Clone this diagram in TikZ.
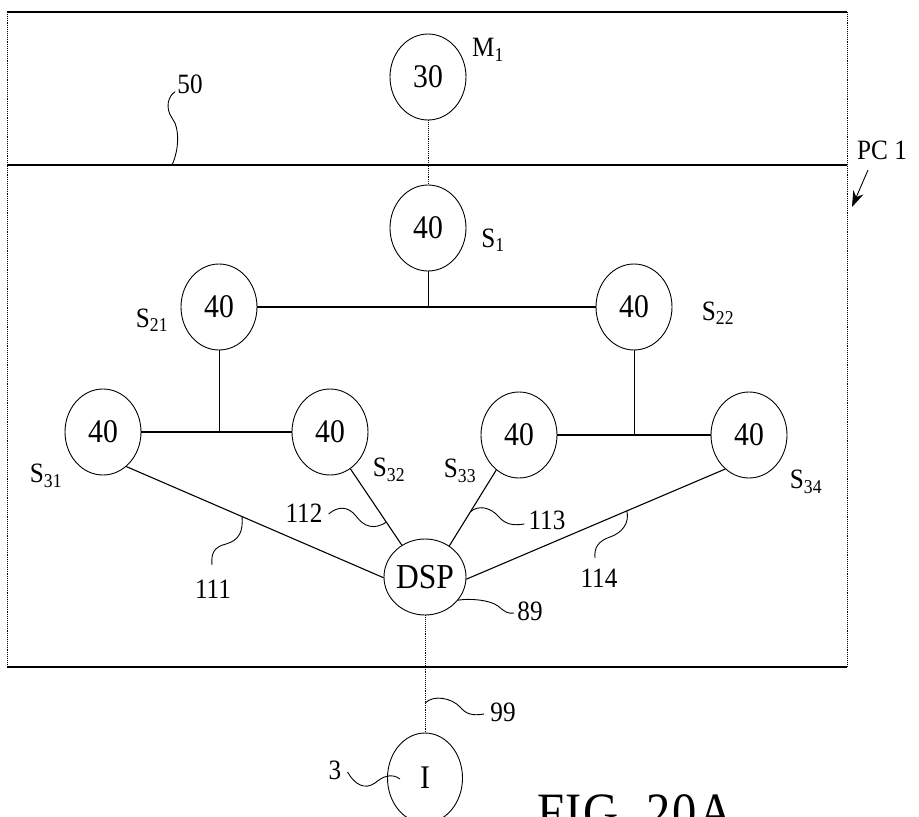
\documentclass[tikz,border=0pt]{standalone}
\usepackage{fontspec}
\setmainfont[FakeStretch=0.9]{Liberation Serif}
\usetikzlibrary{shapes.geometric,arrows.meta,calc}
\newcommand{\nfont}{\fontsize{33}{36}\selectfont}
\newcommand{\lfont}{\fontsize{28}{30}\selectfont}
\newcommand{\rfont}{\fontsize{28}{30}\selectfont}
\begin{document}
\begin{tikzpicture}[x=1pt,y=-1pt,
  unitnode/.style={ellipse, draw, line width=0.9pt, minimum width=76pt, minimum height=86pt, inner sep=0pt, font=\nfont},
  conn/.style={line width=1.1pt},
  vconn/.style={line width=0.9pt},
  dotconn/.style={line width=0.9pt, densely dotted},
  lead/.style={line width=0.9pt},
  lab/.style={font=\lfont, inner sep=0pt},
  ref/.style={font=\rfont, inner sep=0pt},
  frame/.style={line width=1.6pt},
  side/.style={line width=0.9pt, densely dotted}]
\clip (0,0) rectangle (919,817);
\fill[white] (0,0) rectangle (919,817);

% frame
\coordinate (tl) at (7,12);
\coordinate (tr) at (847,12);
\coordinate (ml) at (7,165);
\coordinate (mr) at (847,165);
\coordinate (bl) at (7,667);
\coordinate (br) at (847,667);
\draw[frame] (tl) -- (tr);
\draw[frame] (ml) -- (mr);
\draw[frame] (bl) -- (br);
\draw[side] (tl) -- (bl);
\draw[side] (tr) -- (br);

% nodes
\node[unitnode] (m1) at (428,77) {30};
\node[unitnode] (s1) at (428,228) {40};
\node[unitnode] (s21) at (219,307) {40};
\node[unitnode] (s22) at (634,307) {40};
\node[unitnode] (s31) at (103,432) {40};
\node[unitnode] (s32) at (330,432) {40};
\node[unitnode] (s33) at (519,435) {40};
\node[unitnode] (s34) at (749,435) {40};
\node[unitnode, minimum width=82pt, minimum height=76pt, font=\fontsize{35}{38}\selectfont] (dsp) at (425,577) {DSP};
\node[unitnode, minimum width=75pt, minimum height=90pt] (inode) at (425,778) {I};

% labels
\node[lab] (lm1) at (488,50) {M\textsubscript{1}};
\node[lab] (ls1) at (493,240) {S\textsubscript{1}};
\node[lab] (ls21) at (152,320) {S\textsubscript{21}};
\node[lab] (ls22) at (718,313) {S\textsubscript{22}};
\node[lab] (ls31) at (46,476) {S\textsubscript{31}};
\node[lab] (ls32) at (389,470) {S\textsubscript{32}};
\node[lab] (ls33) at (460,471) {S\textsubscript{33}};
\node[lab] (ls34) at (806,482) {S\textsubscript{34}};

% connectors
\draw[dotconn] (m1.south) -- (s1.north);
\draw[vconn] (s1.south) -- (s1.south |- s21.east);
\draw[conn] (s21.east) -- (s22.west);
\draw[vconn] (s21.south) -- (s21.south |- s31.east);
\draw[conn] (s31.east) -- (s32.west);
\draw[vconn] (s22.south) -- (s22.south |- s33.east);
\draw[conn] (s33.east) -- (s34.west);
\draw[conn] (s31.-56) -- coordinate[pos=0.45] (c111) (dsp.181);
\draw[conn] (s32.-61) -- coordinate[pos=0.70] (c112) (dsp.126);
\draw[conn] (s33.237) -- coordinate[pos=0.55] (c113) (dsp.52);
\draw[conn] (s34.235) -- coordinate[pos=0.38] (c114) (dsp.-3);
\draw[dotconn] (dsp.south) -- coordinate[pos=0.75] (c99) (inode.north);

% reference numerals
\node[ref] (n111) at (213,589) {111};
\node[ref] (n112) at (304,513) {112};
\node[ref] (n113) at (547,520) {113};
\node[ref] (n114) at (599,578) {114};
\node[ref] (n89) at (530,611) {89};
\node[ref] (n99) at (503,712) {99};
\node[ref] (n3) at (335,770) {3};
\node[ref] (n50) at (190,84) {50};
\node[ref] (npc) at (882,150) {PC 1};

% leaders
\draw[lead] (c111) .. controls +(1,14) and (240,540) .. (226,544) .. controls (214,547) and (211,553) .. (212,565);
\draw[lead] ($(n112.east)+(6,1)$) .. controls (338,506) and (348,506) .. (356,516) .. controls (364,527) and (374,530) .. (c112);
\draw[lead] (c113) .. controls (478,505) and (490,507) .. (498,516) .. controls (505,524) and (512,526) .. ($(n113.west)+(-4,4)$);
\draw[lead] (c114) .. controls +(3,12) and (622,533) .. (610,537) .. controls (598,541) and (594,548) .. (595,558);
\draw[lead] (dsp.-35) .. controls +(12,-2) and (490,600) .. (498,606) .. controls (505,612) and (508,614) .. ($(n89.west)+(-3,2)$);
\draw[lead] (c99) .. controls +(8,-9) and (452,698) .. (460,707) .. controls (466,714) and (472,716) .. ($(n99.west)+(-6,2)$);
\draw[lead] ($(n3.east)+(6,2)$) .. controls (355,785) and (365,790) .. (375,783) .. controls (383,776) and (392,773) .. (400,779);
\draw[lead] ($(n50.south west)+(-2,-2)$) .. controls (168,96) and (165,108) .. (172,118) .. controls (180,128) and (179,150) .. (172,165);
\draw[lead, -{Stealth[length=16pt,width=11pt]}] (868,170) -- (852,207);

\node[font=\fontsize{54}{56}\selectfont\addfontfeature{LetterSpace=3}, anchor=base west, inner sep=0pt] (fig) at (537,830) {FIG. 20A};
\end{tikzpicture}
\end{document}
